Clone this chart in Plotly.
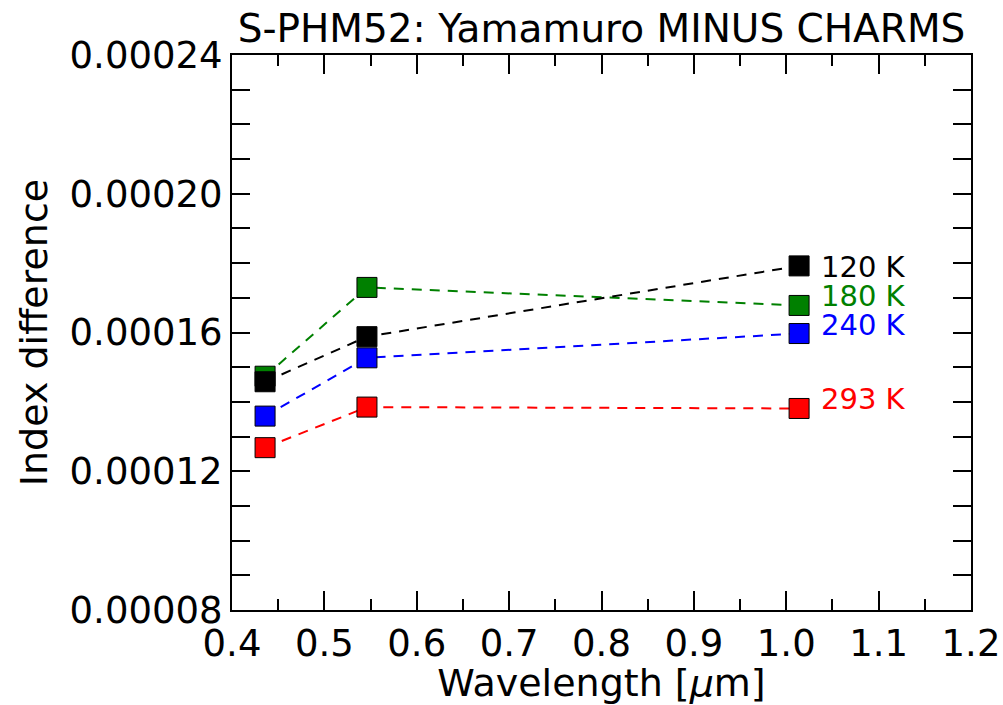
import plotly.graph_objects as go

wavelength_um = [0.4358, 0.5461, 1.0139]
temps = ["120 K", "180 K", "240 K", "293 K"]
diff_120K = [0.0001458, 0.0001588, 0.0001792]
diff_180K = [0.0001474, 0.0001730, 0.0001678]
diff_240K = [0.0001359, 0.0001527, 0.0001597]
diff_293K = [0.0001268, 0.0001385, 0.0001381]
label_y = [0.0001789, 0.0001704, 0.0001621, 0.0001407]
colors = ["#000000", "#008000", "#0000ff", "#ff0000"]

series = [diff_120K, diff_180K, diff_240K, diff_293K]

fig = go.Figure()
# draw in reverse so 120 K is on top
for name, vals, col in reversed(list(zip(temps, series, colors))):
    fig.add_trace(go.Scatter(
        x=wavelength_um, y=vals, mode="lines+markers", name=name,
        line=dict(color=col, width=2, dash="10px,8px"),
        marker=dict(symbol="square", size=20, color=col,
                    line=dict(color="#000000", width=1)),
        showlegend=False,
    ))

for name, ly, col in zip(temps, label_y, colors):
    fig.add_annotation(x=1.037, y=ly, xref="x", yref="y", text=name,
                       showarrow=False, xanchor="left", yanchor="middle",
                       borderpad=0,
                       font=dict(family="DejaVu Sans", size=29, color=col))

fig.update_layout(
    width=1003, height=705,
    margin=dict(l=232, r=32, t=55, b=95),
    paper_bgcolor="white", plot_bgcolor="white",
    font=dict(family="DejaVu Sans", size=37, color="black"),
    title=dict(text="S-PHM52: Yamamuro MINUS CHARMS", x=0.5, xref="paper",
               xanchor="center", y=0.96, yanchor="middle", yref="container",
               font=dict(size=39)),
)

fig.update_xaxes(
    range=[0.4, 1.2], tickmode="array", automargin=False,
    tickvals=[0.4, 0.5, 0.6, 0.7, 0.8, 0.9, 1.0, 1.1, 1.2],
    ticktext=["0.4", "0.5", "0.6", "0.7", "0.8", "0.9", "1.0", "1.1", "1.2"],
    ticks="inside", ticklen=19, tickwidth=1.5, tickcolor="black",
    minor=dict(dtick=0.05, ticks="inside", ticklen=11, tickwidth=1.5, tickcolor="black", showgrid=False),
    showline=True, linewidth=2, linecolor="black", mirror="ticks",
    showgrid=False, zeroline=False,
    title=dict(text="Wavelength [<i>μ</i>m]", font=dict(size=38), standoff=6),
    tickfont=dict(size=37),
)
fig.update_yaxes(
    range=[0.00008, 0.00024], tickmode="array", automargin=False,
    tickvals=[0.00008, 0.00012, 0.00016, 0.00020, 0.00024],
    ticktext=["0.00008", "0.00012", "0.00016", "0.00020", "0.00024"],
    ticks="inside", ticklen=18, tickwidth=1.5, tickcolor="black",
    minor=dict(dtick=0.00001, ticks="inside", ticklen=18, tickwidth=1.5, tickcolor="black", showgrid=False),
    showline=True, linewidth=2, linecolor="black", mirror="ticks",
    showgrid=False, zeroline=False,
    title=dict(text="Index difference", font=dict(size=38), standoff=10),
    tickfont=dict(size=37),
)

fig.write_html("out.html")
